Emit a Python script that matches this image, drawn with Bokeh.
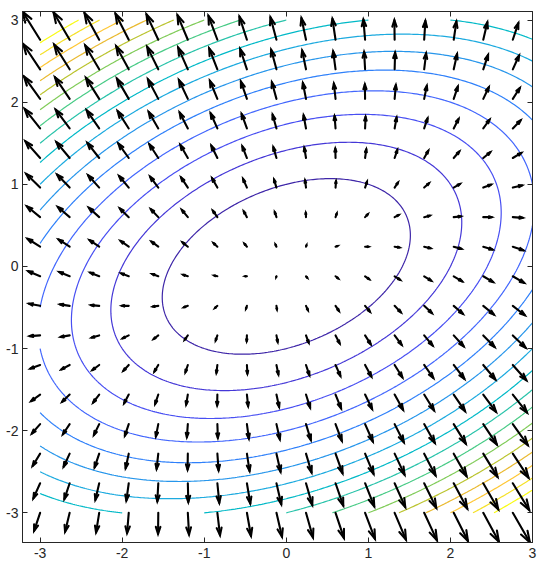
import numpy as np
from bokeh.plotting import figure
from bokeh.models import LinearAxis, FixedTicker, Range1d
from bokeh.embed import file_html
from bokeh.resources import INLINE

# ---- data -------------------------------------------------------------
# scalar field f(x, y) = cxx*x^2 + cxy*x*y + cyy*y^2
coef_xx = 1.0
coef_xy = -1.0
coef_yy = 2.0

# contour domain and levels
domain_min, domain_max = -3.0, 3.0
contour_levels = [2, 4, 6, 8, 10, 12, 14, 16, 18, 20, 22, 24, 26, 28, 30, 32]
level_colors = ["#3e26a8", "#4538d7", "#484ff2", "#4367fd", "#2f80fa", "#2796eb",
                "#1caadf", "#01b9c7", "#29c3aa", "#48cb86", "#81cc59", "#bbc42f",
                "#eaba30", "#fec735", "#f5e128", "#f9fb15"]

# quiver grid (tails of arrows), same along x and y
quiver_pos = [-3.0, -2.64, -2.28, -1.92, -1.56, -1.2, -0.84, -0.48, -0.12,
              0.24, 0.6, 0.96, 1.32, 1.68, 2.04, 2.4, 2.76]
arrow_scale = 0.0245

tick_values = [-3, -2, -1, 0, 1, 2, 3]
tick_labels = ["-3", "-2", "-1", "0", "1", "2", "3"]

# ---- field ------------------------------------------------------------
def field(x, y):
    return coef_xx * x**2 + coef_xy * x * y + coef_yy * y**2

def grad(x, y):
    return 2 * coef_xx * x + coef_xy * y, coef_xy * x + 2 * coef_yy * y

gx = np.linspace(domain_min, domain_max, 241)
gy = np.linspace(domain_min, domain_max, 241)
GX, GY = np.meshgrid(gx, gy)
Z = field(GX, GY)

QX, QY = np.meshgrid(np.array(quiver_pos), np.array(quiver_pos))
QX = QX.ravel(); QY = QY.ravel()
U, V = grad(QX, QY)
U = U * arrow_scale; V = V * arrow_scale

alpha, beta = 0.33, 0.33
xs, ys = [], []
for x, y, u, v in zip(QX, QY, U, V):
    tx, ty = x + u, y + v
    xs.append([x, tx]); ys.append([y, ty])
    hx = [tx - alpha * (u + beta * v), tx, tx - alpha * (u - beta * v)]
    hy = [ty - alpha * (v - beta * u), ty, ty - alpha * (v + beta * u)]
    xs.append(hx); ys.append(hy)

all_x = np.concatenate([np.ravel(a) for a in xs])
all_y = np.concatenate([np.ravel(a) for a in ys])
x0 = min(all_x.min(), domain_min); x1 = max(all_x.max(), domain_max)
y0 = min(all_y.min(), domain_min); y1 = max(all_y.max(), domain_max)

# ---- figure -----------------------------------------------------------
axis_col = "#262626"
p = figure(width=543, height=565, output_backend="svg", toolbar_location=None,
           x_range=Range1d(x0, x1), y_range=Range1d(y0, y1),
           min_border_left=22, min_border_right=11, min_border_top=11,
           min_border_bottom=23)
p.background_fill_color = "white"
p.outline_line_color = axis_col
p.xgrid.visible = False
p.ygrid.visible = False

p.contour(gx, gy, Z, contour_levels, line_color=level_colors, line_width=1.2)
p.multi_line(xs, ys, line_color="black", line_width=2.1, line_cap="round",
             line_join="miter")

def style(ax, labels=True):
    ax.ticker = FixedTicker(ticks=tick_values)
    ax.axis_line_color = axis_col
    ax.major_tick_line_color = axis_col
    ax.major_tick_in = 5
    ax.major_tick_out = 0
    ax.minor_tick_line_color = None
    ax.major_label_text_font = "Liberation Sans"
    ax.major_label_text_color = axis_col
    if labels:
        ax.major_label_text_font_size = "14px"
        ax.major_label_overrides = {v: s for v, s in zip(tick_values, tick_labels)}
    else:
        ax.major_label_text_font_size = "0px"
        ax.major_label_overrides = {v: "" for v in tick_values}
        ax.major_label_standoff = 0

for ax in p.xaxis:
    style(ax)
    ax.major_label_standoff = 5
for ax in p.yaxis:
    style(ax)
    ax.major_label_standoff = 4

top = LinearAxis()
style(top, labels=False)
p.add_layout(top, "above")
right = LinearAxis()
style(right, labels=False)
p.add_layout(right, "right")

open("out.html", "w").write(file_html(p, INLINE))
